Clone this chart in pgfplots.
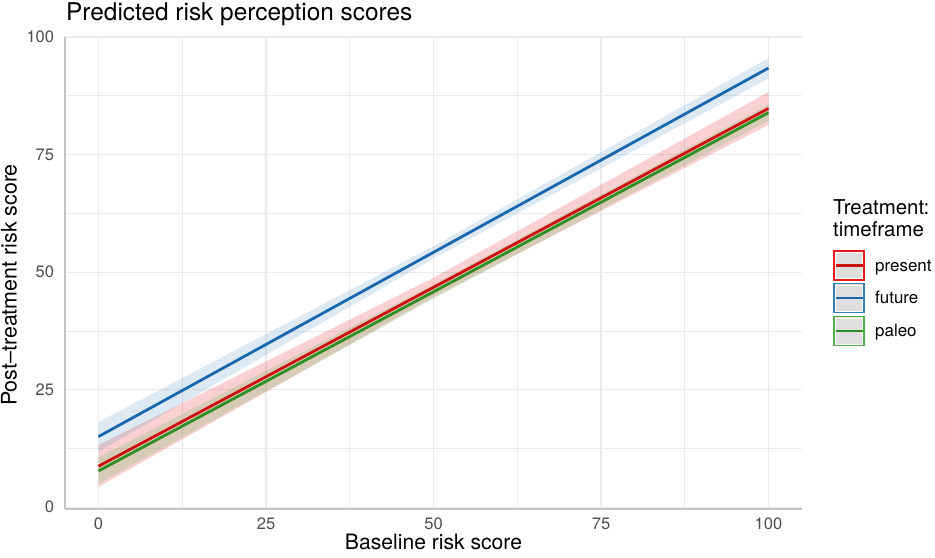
\documentclass[border=0pt]{standalone}
\usepackage{pgfplots}
\pgfplotsset{compat=1.18}
\usepackage{fontspec}
\setmainfont{TeX Gyre Heros}
\definecolor{lred}{HTML}{CC1010}
\definecolor{lblue}{HTML}{1B67AD}
\definecolor{lgreen}{HTML}{2F8F25}
\definecolor{bred}{HTML}{E41A1C}
\definecolor{bblue}{HTML}{377EB8}
\definecolor{bgreen}{HTML}{4DAF4A}
\definecolor{gridc}{HTML}{EBEBEB}
\definecolor{axc}{HTML}{C4C4C4}
\definecolor{tickc}{HTML}{4D4D4D}
\definecolor{keyc}{HTML}{DEDEDE}
\begin{document}
\begin{tikzpicture}
\path[use as bounding box] (0,0) rectangle (935bp,558bp);
\begin{axis}[
  at={(65bp,49bp)}, anchor=south west,
  scale only axis, width=737bp, height=472bp,
  xmin=-5, xmax=105, ymin=-0.4, ymax=100,
  xtick={0,25,50,75,100}, ytick={0,25,50,75,100},
  minor xtick={12.5,37.5,62.5,87.5}, minor ytick={12.5,37.5,62.5,87.5},
  grid=both,
  major grid style={draw=gridc, line width=1.1bp},
  minor grid style={draw=gridc, line width=0.6bp},
  major tick length=0pt, minor tick length=0pt,
  axis x line*=bottom, axis y line*=left,
  axis line style={draw=axc, line width=1.4bp},
  /pgf/number format/assume math mode=true,
  ticklabel style={font=\fontsize{16.6}{18}\selectfont, text=tickc, inner sep=0pt},
  xticklabel style={yshift=-9bp},
  yticklabel style={xshift=-10.7bp},
  clip=true,
]
% ribbons
\addplot[fill=bred, fill opacity=0.2, draw=none] coordinates {(0,13.2) (50,48.8) (100,88.3) (100,81.3) (50,44.7) (0,4.3)} -- cycle;
\addplot[fill=bgreen, fill opacity=0.2, draw=none] coordinates {(0,10.6) (50,47.3) (100,85.6) (100,82.2) (50,44.3) (0,5.0)} -- cycle;
\addplot[fill=bblue, fill opacity=0.17, draw=none] coordinates {(0,18.1) (50,55.5) (100,95.5) (100,91.2) (50,52.9) (0,11.8)} -- cycle;
% lines
\addplot[lred, line width=2.8bp] coordinates {(0,8.7) (100,84.8)};
\addplot[lgreen, line width=2.8bp] coordinates {(0,7.7) (100,83.9)};
\addplot[lblue, line width=2.8bp] coordinates {(0,15.0) (100,93.4)};
\end{axis}
% title and axis labels
\node[anchor=base west, inner sep=0pt, font=\fontsize{24.5}{28}\selectfont] at (66bp,537.3bp) {Predicted risk perception scores};
\node[anchor=base, inner sep=0pt, font=\fontsize{21.2}{24}\selectfont] at (433.5bp,9bp) {Baseline risk score};
\node[anchor=base, inner sep=0pt, rotate=90, font=\fontsize{21.5}{24}\selectfont] at (16.5bp,273bp) {Post--treatment risk score};
% legend
\node[anchor=base west, inner sep=0pt, font=\fontsize{20.5}{24}\selectfont] at (833bp,343bp) {Treatment:};
\node[anchor=base west, inner sep=0pt, font=\fontsize{20.5}{24}\selectfont] at (833bp,321.3bp) {timeframe};
\foreach \c/\l/\n/\yc in {bred/lred/present/292.3, bblue/lblue/future/260, bgreen/lgreen/paleo/227}{
  \fill[keyc] (834bp,\yc bp-14.5bp) rectangle (864bp,\yc bp+14.5bp);
  \draw[white, line width=0.8bp] (835.5bp,\yc bp-13bp) rectangle (862.5bp,\yc bp+13bp);
  \draw[\c, line width=1.4bp] (834bp,\yc bp-14.5bp) rectangle (864bp,\yc bp+14.5bp);
  \draw[\l, line width=2.4bp] (835.5bp,\yc bp) -- (862.5bp,\yc bp);
  \node[anchor=base west, inner sep=0pt, font=\fontsize{17}{18}\selectfont] at (875bp,\yc bp-5.8bp) {\n};
}
\end{tikzpicture}
\end{document}
